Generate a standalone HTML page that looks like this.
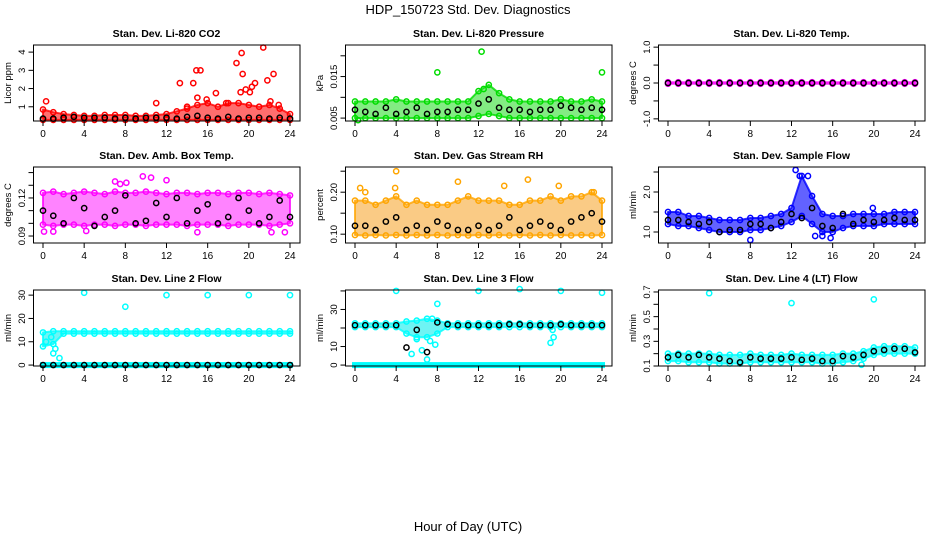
<!DOCTYPE html>
<html><head><meta charset="utf-8">
<style>
body{margin:0;background:#fff;}
svg{display:block;font-family:"Liberation Sans",sans-serif;}
</style></head>
<body>
<svg id="chart" width="936" height="540" viewBox="0 0 936 540" xmlns="http://www.w3.org/2000/svg">
<rect width="936" height="540" fill="#fff"/>
<text x="468" y="14" text-anchor="middle" font-size="13">HDP_150723  Std. Dev. Diagnostics</text>
<text x="468" y="531" text-anchor="middle" font-size="13">Hour of Day (UTC)</text>
</svg>
<script>
const hours = [0,1,2,3,4,5,6,7,8,9,10,11,12,13,14,15,16,17,18,19,20,21,22,23,24];
const xTicks = [0,4,8,12,16,20,24];

const co2Hi = [0.85,0.7,0.6,0.55,0.5,0.5,0.55,0.55,0.55,0.5,0.5,0.55,0.6,0.75,0.9,1.1,1.2,1.0,1.2,1.2,1.1,1.0,1.1,0.9,0.6];
const co2Lo = [0.28,0.28,0.28,0.28,0.28,0.28,0.28,0.28,0.28,0.28,0.28,0.28,0.28,0.28,0.28,0.28,0.28,0.28,0.28,0.28,0.28,0.28,0.28,0.28,0.28];
const co2Black = [0.35,0.35,0.4,0.45,0.4,0.4,0.4,0.35,0.4,0.35,0.4,0.4,0.4,0.35,0.45,0.5,0.4,0.35,0.45,0.35,0.4,0.4,0.35,0.4,0.35];
const co2OutT = [0.3,11,13.3,14.6,14.9,15.3,15,15.9,16.8,18.8,19.2,19.3,19.4,19.7,20.1,20.3,20.6,21.4,21.8,22.4,22.1,22.9,17.8,14];
const co2OutV = [1.3,1.2,2.3,2.3,3.0,3.0,1.5,1.4,1.75,3.4,1.8,3.95,2.8,1.95,1.8,2.1,2.3,4.25,2.45,2.8,1.3,1.1,1.2,1.0];

const presHi = [0.009,0.009,0.009,0.009,0.0095,0.009,0.009,0.009,0.009,0.009,0.009,0.009,0.0115,0.013,0.011,0.0095,0.009,0.009,0.009,0.009,0.0095,0.009,0.009,0.0095,0.009];
const presLo = [0.005,0.005,0.005,0.005,0.005,0.005,0.005,0.005,0.005,0.005,0.005,0.005,0.0055,0.006,0.0055,0.005,0.005,0.005,0.005,0.005,0.005,0.005,0.005,0.005,0.005];
const presBlack = [0.007,0.0065,0.006,0.0075,0.006,0.0065,0.0075,0.006,0.0065,0.0065,0.007,0.007,0.0085,0.0095,0.0075,0.007,0.007,0.0065,0.007,0.007,0.008,0.0075,0.007,0.0075,0.007];
const presOutT = [8,12.3,12.5,24,0.3];
const presOutV = [0.016,0.021,0.012,0.016,0.0045];

const tempHi = [0.02,0.02,0.02,0.02,0.02,0.02,0.02,0.02,0.02,0.02,0.02,0.02,0.02,0.02,0.02,0.02,0.02,0.02,0.02,0.02,0.02,0.02,0.02,0.02,0.02];
const tempLo = [-0.02,-0.02,-0.02,-0.02,-0.02,-0.02,-0.02,-0.02,-0.02,-0.02,-0.02,-0.02,-0.02,-0.02,-0.02,-0.02,-0.02,-0.02,-0.02,-0.02,-0.02,-0.02,-0.02,-0.02,-0.02];
const tempBlack = [0,0,0,0,0,0,0,0,0,0,0,0,0,0,0,0,0,0,0,0,0,0,0,0,0];

const ambHi = [0.124,0.125,0.123,0.124,0.125,0.124,0.123,0.125,0.124,0.124,0.125,0.124,0.123,0.124,0.124,0.123,0.124,0.124,0.123,0.124,0.124,0.123,0.124,0.123,0.122];
const ambLo = [0.099,0.098,0.099,0.099,0.098,0.099,0.099,0.098,0.099,0.099,0.098,0.099,0.099,0.099,0.098,0.099,0.099,0.099,0.098,0.099,0.099,0.099,0.098,0.099,0.1];
const ambBlack = [0.11,0.106,0.1,0.12,0.112,0.098,0.105,0.11,0.122,0.1,0.102,0.116,0.105,0.12,0.1,0.11,0.115,0.1,0.105,0.12,0.11,0.1,0.105,0.118,0.105];
const ambOutT = [10.5,12,7,23.5,22.2,4.2,15,0.1,1,7.5,8.1,9.7];
const ambOutV = [0.136,0.134,0.133,0.093,0.093,0.094,0.093,0.0935,0.0935,0.131,0.132,0.137];

const rhHi = [0.18,0.18,0.17,0.18,0.19,0.17,0.18,0.17,0.17,0.17,0.18,0.19,0.18,0.18,0.18,0.17,0.17,0.18,0.18,0.19,0.18,0.19,0.19,0.2,0.18];
const rhLo = [0.098,0.097,0.098,0.097,0.098,0.097,0.098,0.097,0.098,0.097,0.098,0.097,0.098,0.097,0.098,0.097,0.098,0.097,0.098,0.097,0.098,0.097,0.098,0.097,0.098];
const rhBlack = [0.12,0.12,0.11,0.13,0.14,0.11,0.12,0.11,0.13,0.12,0.11,0.11,0.12,0.11,0.12,0.14,0.11,0.12,0.13,0.12,0.11,0.13,0.14,0.15,0.13];
const rhOutT = [4,10,0.5,1,14.5,16.8,19.8,23.2,3.9];
const rhOutV = [0.25,0.225,0.21,0.2,0.215,0.23,0.215,0.2,0.21];

const flowHi = [1.5,1.5,1.4,1.4,1.35,1.3,1.3,1.3,1.35,1.35,1.4,1.45,1.6,2.4,1.9,1.45,1.4,1.4,1.45,1.45,1.45,1.45,1.5,1.5,1.5];
const flowLo = [1.2,1.15,1.15,1.1,1.05,1.0,1.0,1.0,1.05,1.05,1.1,1.15,1.25,1.4,1.2,1.0,1.0,1.1,1.15,1.15,1.15,1.2,1.2,1.2,1.2];
const flowBlack = [1.3,1.3,1.25,1.2,1.25,1.0,1.05,1.05,1.2,1.2,1.1,1.25,1.45,1.35,1.6,1.15,1.1,1.45,1.2,1.3,1.25,1.3,1.35,1.3,1.3];
const flowOutT = [8,12.4,12.8,13.6,15,15.8,14.3,19.9];
const flowOutV = [0.8,2.55,2.4,2.4,0.9,0.85,0.9,1.6];

const l2Hi = [14,14.5,14.5,14.5,14.5,14.5,14.5,14.5,14.5,14.5,14.5,14.5,14.5,14.5,14.5,14.5,14.5,14.5,14.5,14.5,14.5,14.5,14.5,14.5,14.5];
const l2Lo = [8,9,13.5,13.5,13.5,13.5,13.5,13.5,13.5,13.5,13.5,13.5,13.5,13.5,13.5,13.5,13.5,13.5,13.5,13.5,13.5,13.5,13.5,13.5,13.5];
const l2Black = [0,0,0,0,0,0,0,0,0,0,0,0,0,0,0,0,0,0,0,0,0,0,0,0,0];
const l2OutT = [4,8,12,16,20,24,0.3,1,1.2,0.8,1.6];
const l2OutV = [31,25,30,30,30,30,10,5,7,12,3];

const l3Hi = [22.5,22.5,22.5,22.5,22.5,23.5,24,25,24,22.5,22.5,22.5,22.5,22.5,22.5,22.5,22.5,22.5,22.5,22.5,22.5,22.5,22.5,22.5,22.5];
const l3Lo = [20.5,20.5,20.5,20.5,20.5,17,15,15,17,20.5,20.5,20.5,20.5,20.5,20.5,20.5,20.5,20.5,20.5,20.5,20.5,20.5,20.5,20.5,20.5];
const l3Black = [21.5,21.5,21.5,21.5,21.5,9.5,19,7,23,22,21.5,21.5,21.5,21.5,21.5,22,22,21.5,21.5,21.5,22,21.5,21.5,21.5,21.5];
const l3OutT = [4,12,16,20,24,8,5.5,6,6.5,7,7.5,7.8,19,19.3,19.2,7.3];
const l3OutV = [40,40,41,40,39,33,6,14,8,3,25,11,12,15,19,13];

const l4Hi = [0.2,0.2,0.2,0.2,0.2,0.19,0.19,0.19,0.2,0.19,0.19,0.19,0.2,0.19,0.19,0.19,0.19,0.2,0.2,0.22,0.25,0.26,0.26,0.26,0.25];
const l4Lo = [0.14,0.14,0.13,0.13,0.13,0.12,0.12,0.12,0.13,0.13,0.13,0.13,0.13,0.13,0.13,0.12,0.12,0.13,0.14,0.16,0.19,0.2,0.2,0.2,0.2];
const l4Black = [0.17,0.19,0.17,0.19,0.17,0.16,0.14,0.13,0.17,0.16,0.16,0.16,0.17,0.15,0.16,0.14,0.14,0.18,0.17,0.19,0.22,0.23,0.24,0.24,0.21];
const l4OutT = [4,12,20,18.8];
const l4OutV = [0.69,0.61,0.64,0.11];

const NS = "http://www.w3.org/2000/svg";
const svg = document.getElementById('chart');
function mk(tag, attrs, parent){
  const e = document.createElementNS(NS, tag);
  for (const k in attrs) e.setAttribute(k, attrs[k]);
  (parent||svg).appendChild(e);
  return e;
}
const colX = [43,355,668];
const rowTop = [45,167,290];
const boxH = 76;

function panel(cfg){
  const x0 = colX[cfg.col], top = rowTop[cfg.row], bot = top + boxH;
  const xs = t => x0 + t * (247/24);
  const ys = v => bot - (v - cfg.ymin) / (cfg.ymax - cfg.ymin) * boxH;
  const g = mk('g', {});
  
  
  const title = mk('text', {x: x0 + 123.5, y: top - 8, 'text-anchor':'middle', 'font-size':'10.5', 'font-weight':'bold'}, g);
  title.textContent = cfg.title;
  
  
  let pts = [];
  hours.forEach((t,i)=>pts.push(xs(t)+','+ys(cfg.hi[i])));
  for (let i=hours.length-1;i>=0;i--) pts.push(xs(hours[i])+','+ys(cfg.lo[i]));
  const band = mk('polygon', {points: pts.join(' '), fill: cfg.fill, 'fill-opacity': cfg.op || 0.7, stroke: cfg.color, 'stroke-opacity':0.8, 'stroke-width':'2', 'stroke-linejoin':'round'}, g);
  
  
  if (cfg.zeroBand) {
    const zb = mk('rect', {x: xs(0)-3, y: ys(0)-3, width: xs(24)-xs(0)+6, height: 6, fill: cfg.color}, g);
    
    
  }
  hours.forEach((t,i)=>{
    [cfg.hi[i], cfg.lo[i]].forEach(v=>{
      const c = mk('circle', {cx: xs(t), cy: ys(v), r: 2.6, fill:'none', stroke: cfg.color, 'stroke-width':'1.5'}, g);
      
      
    });
  });
  cfg.outT.forEach((t,i)=>{
    const c = mk('circle', {cx: xs(t), cy: ys(cfg.outV[i]), r: 2.6, fill:'none', stroke: cfg.color, 'stroke-width':'1.5'}, g);
    
    
  });
  hours.forEach((t,i)=>{
    const c = mk('circle', {cx: xs(t), cy: ys(cfg.black[i]), r: 2.6, fill:'none', stroke:'#000', 'stroke-width':'1.5'}, g);
    
    
  });
  const box = mk('rect', {x: x0-9.5, y: top, width: 266.5, height: boxH, fill:'none', stroke:'#000', 'stroke-width':'1'}, g);
  
  
  xTicks.forEach(t=>{
    mk('line', {x1: xs(t), x2: xs(t), y1: bot, y2: bot+5, stroke:'#000'}, g);
    const l = mk('text', {x: xs(t), y: bot+16, 'text-anchor':'middle', 'font-size':'10'}, g);
    l.textContent = t;
    
    
  });
  cfg.ticks.forEach((v,i)=>{
    const yy = ys(v);
    mk('line', {x1: x0-9.5, x2: x0-14.5, y1: yy, y2: yy, stroke:'#000'}, g);
    if (cfg.labels[i] !== '') {
      const l = mk('text', {x: x0-18, y: yy, 'text-anchor':'middle', 'font-size':'9.5', transform:`rotate(-90 ${x0-18} ${yy})`}, g);
      l.textContent = cfg.labels[i];
      
      
    }
  });
  const yt = mk('text', {x: x0-32, y: top+boxH/2, 'text-anchor':'middle', 'font-size':'9.5', transform:`rotate(-90 ${x0-32} ${top+boxH/2})`}, g);
  yt.textContent = cfg.ytitle;
  
  
}

panel({name:'co2', title:'Stan. Dev. Li-820 CO2', row:0,col:0, ymin:0.22,ymax:4.39, hi:co2Hi,lo:co2Lo,black:co2Black,outT:co2OutT,outV:co2OutV, color:'#ff0000', fill:'#ff3030', ticks:[1,2,3,4], labels:['1','2','3','4'], ytitle:'Licor ppm'});
panel({name:'pressure', title:'Stan. Dev. Li-820 Pressure', row:0,col:1, ymin:0.0043,ymax:0.0226, hi:presHi,lo:presLo,black:presBlack,outT:presOutT,outV:presOutV, color:'#00dd00', fill:'#30e030', op:0.6, ticks:[0.005,0.01,0.015,0.02], labels:['0.005','','0.015',''], ytitle:'kPa'});
panel({name:'li820-temp', title:'Stan. Dev. Li-820 Temp.', row:0,col:2, ymin:-1.06,ymax:1.06, hi:tempHi,lo:tempLo,black:tempBlack,outT:[],outV:[], color:'#ff00ff', fill:'#ff00ff', ticks:[-1,-0.5,0,0.5,1], labels:['-1.0','','0.0','','1.0'], ytitle:'degrees C'});
panel({name:'amb-box-temp', title:'Stan. Dev. Amb. Box Temp.', row:1,col:0, ymin:0.0845,ymax:0.1444, hi:ambHi,lo:ambLo,black:ambBlack,outT:ambOutT,outV:ambOutV, color:'#ff00ff', fill:'#ff30ff', op:0.6, ticks:[0.09,0.10,0.11,0.12,0.13,0.14], labels:['0.09','','','0.12','',''], ytitle:'degrees C'});
panel({name:'gas-stream-rh', title:'Stan. Dev. Gas Stream RH', row:1,col:1, ymin:0.079,ymax:0.26, hi:rhHi,lo:rhLo,black:rhBlack,outT:rhOutT,outV:rhOutV, color:'#ffa500', fill:'#f5a020', op:0.55, ticks:[0.10,0.15,0.20,0.25], labels:['0.10','','0.20',''], ytitle:'percent'});
panel({name:'sample-flow', title:'Stan. Dev. Sample Flow', row:1,col:2, ymin:0.725,ymax:2.625, hi:flowHi,lo:flowLo,black:flowBlack,outT:flowOutT,outV:flowOutV, color:'#0000ff', fill:'#2020ff', ticks:[1.0,1.5,2.0,2.5], labels:['1.0','','2.0',''], ytitle:'ml/min'});
panel({name:'line2-flow', title:'Stan. Dev. Line 2 Flow', row:2,col:0, ymin:-0.4,ymax:32.2, hi:l2Hi,lo:l2Lo,black:l2Black,outT:l2OutT,outV:l2OutV, color:'#00ffff', fill:'#30f0f0', zeroBand:true, ticks:[0,10,20,30], labels:['0','10','20','30'], ytitle:'ml/min'});
panel({name:'line3-flow', title:'Stan. Dev. Line 3 Flow', row:2,col:1, ymin:-0.5,ymax:40.5, hi:l3Hi,lo:l3Lo,black:l3Black,outT:l3OutT,outV:l3OutV, color:'#00ffff', fill:'#30f0f0', zeroBand:true, ticks:[0,10,20,30,40], labels:['0','10','','30',''], ytitle:'ml/min'});
panel({name:'line4-flow', title:'Stan. Dev. Line 4 (LT) Flow', row:2,col:2, ymin:0.1,ymax:0.716, hi:l4Hi,lo:l4Lo,black:l4Black,outT:l4OutT,outV:l4OutV, color:'#00ffff', fill:'#30f0f0', ticks:[0.1,0.2,0.3,0.4,0.5,0.6,0.7], labels:['0.1','','0.3','','0.5','','0.7'], ytitle:'ml/min'});
</script>
</body></html>
